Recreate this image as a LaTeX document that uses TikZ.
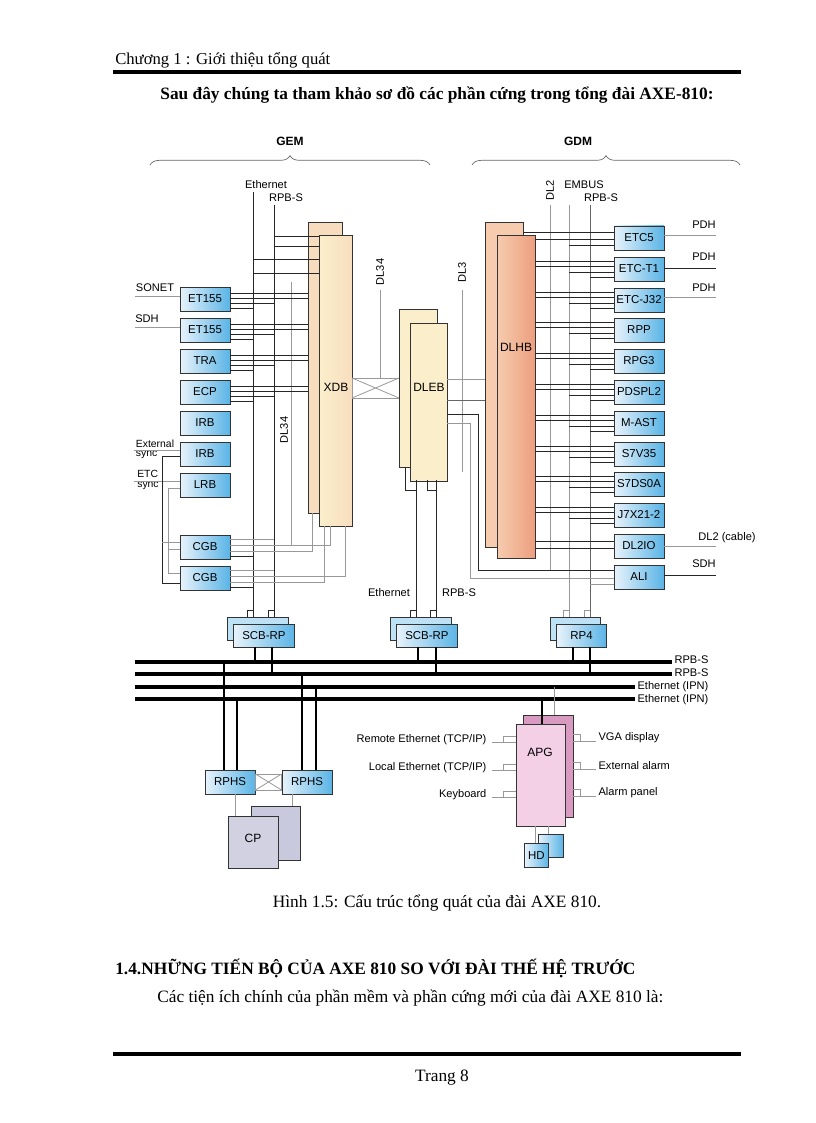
\documentclass[tikz,border=0pt]{standalone}
\usepackage{fontspec}
\setmainfont{Liberation Serif}
\newfontfamily\dsans{Liberation Sans}
\usetikzlibrary{decorations.pathreplacing}
\definecolor{bl}{HTML}{5AB4E6}
\definecolor{bll}{HTML}{E8F3FB}
\definecolor{beige}{HTML}{F7DDBE}
\definecolor{beigel}{HTML}{FBEFCB}
\definecolor{orl}{HTML}{F6CBAE}
\definecolor{ord}{HTML}{EC9E7E}
\definecolor{pk}{HTML}{F3D0E6}
\definecolor{pkd}{HTML}{D99AC2}
\definecolor{lav}{HTML}{C9C9DD}
\begin{document}
\begin{tikzpicture}[x=0.75pt,y=-0.75pt,
  bbox/.style={draw=black!80,line width=0.7pt,left color=bll,right color=bl,minimum width=37.5pt,minimum height=18pt,inner sep=0pt,font=\dsans\fontsize{8.6}{10}\selectfont},
  lbl/.style={font=\dsans\fontsize{8.3}{9}\selectfont,inner sep=1pt},
  ln/.style={line width=0.6pt,black!85},
  gl/.style={line width=0.6pt,black!40},
  bus/.style={line width=2.6pt},
  tall/.style={draw=black!80,line width=0.7pt,inner sep=0pt}]
\useasboundingbox (0,0) rectangle (816,1123);
% page text
\node[anchor=west,font=\fontsize{12.5}{14}\selectfont,inner sep=0] (hdr) at (115,60) {Chương 1 : Giới thiệu tổng quát};
\draw[line width=3pt] (113,72) -- (741,72);
\node[font=\bfseries\fontsize{13}{14}\selectfont] (ttl) at (437,95) {Sau đây chúng ta tham khảo sơ đồ các phần cứng trong tổng đài AXE-810:};
% braces
\draw[decorate,decoration={brace,amplitude=7pt},line width=0.5pt,black!60] (150,165) -- (430,165);
\node[font=\dsans\bfseries\fontsize{9}{10}\selectfont] (gem) at (290,141) {GEM};
\draw[decorate,decoration={brace,amplitude=7pt},line width=0.5pt,black!60] (472,165) -- (740,165);
\node[font=\dsans\bfseries\fontsize{9}{10}\selectfont] (gdm) at (578,141) {GDM};

% GEM vertical lines
\node[lbl] (leth) at (266,185) {Ethernet};
\node[lbl] (lrpb) at (286,198) {RPB-S};
\draw[ln] (253,192) -- (253,622);
\draw[ln] (274,205) -- (274,622);
\draw[gl] (291,282) -- (291,545);
\node[lbl,rotate=90] (dl34a) at (284,430) {DL34};
\draw[gl] (380,290) -- (380,378);
\node[lbl,rotate=90] (dl34b) at (380,272) {DL34};
% XDB
\fill[beige] (308,222) rectangle (342,513); \draw[black!80,line width=0.7pt] (308,222) rectangle (342,513);
\node[tall,left color=beigel,right color=beige,minimum width=24.75pt,minimum height=218pt,anchor=north west] (xdb) at (319,235) {};
\node[font=\dsans\fontsize{9}{10}\selectfont] (xdbl) at (336,387) {XDB};
\foreach \y/\x in {236/274,246/274,259/253,273/253}{\draw[ln] (\x,\y) -- (319,\y);}
% left boxes
\foreach \n/\t/\y in {a/ET155/299,b/ET155/330,c/TRA/361,d/ECP/392,e/IRB/423,f/IRB/454,g/LRB/485,h/CGB/547,i/CGB/578}{
  \node[bbox] (L\n) at (205,\y) {\t};}
\foreach \y in {299,330,361,392}{
  \draw[ln] (230,\y-6) -- (308,\y-6);
  \draw[ln] (230,\y-1) -- (308,\y-1);
  \draw[ln] (230,\y+4) -- (274,\y+4);
  \draw[ln] (230,\y+9) -- (253,\y+9);}
\node[lbl] (sonet) at (155,288) {SONET};
\draw[gl] (135,296) -- (La.west|-0,296);
\node[lbl] (sdh1) at (147,319) {SDH};
\draw[gl] (135,327) -- (Lb.west|-0,327);
\node[lbl,align=left,font=\dsans\fontsize{7.8}{7}\selectfont] (exs) at (155,449) {External\\sync};
\draw[gl] (134,450) -- (Lf.west|-0,450);
\node[lbl,align=left,font=\dsans\fontsize{7.8}{7}\selectfont] (etcs) at (148,480) {ETC\\sync};
\draw[gl] (134,481) -- (Lg.west|-0,481);
\draw[ln] (Lf.west|-0,456) -- (162,456) -- (162,583) -- (Li.west|-0,583);
\draw[gl] (Lg.west|-0,488) -- (168,488) -- (168,573) -- (Li.west|-0,573);
\draw[gl] (162,542) -- (Lh.west|-0,542);
\draw[gl] (168,549) -- (Lh.west|-0,549);
% CGB links
\draw[gl] (230,539) -- (274,539);
\draw[gl] (230,545) -- (330,545) -- (330,526);
\draw[gl] (230,551) -- (312,551) -- (312,513);
\draw[ln] (230,556) -- (253,556);
\draw[gl] (230,570) -- (274,570);
\draw[gl] (230,576) -- (345,576) -- (345,526);
\draw[gl] (230,582) -- (324,582) -- (324,526);
\draw[ln] (230,587) -- (253,587);
% cross
\draw[gl] (352,378) rectangle (399,398);
\draw[gl] (352,378) -- (399,398) (352,398) -- (399,378);
% DLEB
\fill[beigel] (399,309) rectangle (437,467); \draw[black!80,line width=0.7pt] (399,309) rectangle (437,467);
\node[tall,fill=beigel,minimum width=27.75pt,minimum height=118.5pt,anchor=north west] (dleb) at (410,323) {};
\node[font=\dsans\fontsize{9}{10}\selectfont] (dlebl) at (429,387) {DLEB};
\draw[gl] (462,290) -- (462,472);
\node[lbl,rotate=90] (dl3) at (462,272) {DL3};
\draw[gl] (447,379) -- (485,379);
\draw[ln,black!60] (447,400) -- (497,400);
% DLEB bottom
\draw[ln] (416,480) -- (416,622);
\draw[ln] (436,480) -- (436,622);
\draw[ln] (405,467) -- (405,490) -- (416,490);
\draw[ln] (427,480) -- (427,490) -- (436,490);
\node[lbl] (eth2) at (389,593) {Ethernet};
\node[lbl] (rpb2) at (459,593) {RPB-S};
% DLHB
\fill[orl] (485,222) rectangle (523,547); \draw[black!80,line width=0.7pt] (485,222) rectangle (523,547);
\node[tall,left color=orl,right color=ord,minimum width=28.5pt,minimum height=242.25pt,anchor=north west] (dlhb) at (497,235) {};
\node[font=\dsans\fontsize{9}{10}\selectfont] (dlhbl) at (516,347) {DLHB};
% GDM verticals
\node[lbl,rotate=90] (dl2) at (550,190) {DL2};
\node[lbl] (emb) at (584,185) {EMBUS};
\node[lbl] (rpb3) at (601,198) {RPB-S};
\draw[gl] (550,205) -- (550,570);
\draw[gl] (569,205) -- (569,622);
\draw[ln,black!60] (590,205) -- (590,622);
% right boxes
\foreach \n/\t/\y in {a/ETC5/238,b/ETC-T1/269,c/ETC-J32/300,d/RPP/330,e/RPG3/361,f/PDSPL2/392,g/M-AST/423,h/S7V35/454,i/S7DS0A/484,j/J7X21-2/515,k/DL2IO/546,l/ALI/577}{
  \node[bbox] (R\n) at (639,\y) {\t};}
\draw[ln] (523,232) -- (614,232);
\draw[ln] (535,239) -- (614,239);
\draw[ln] (569,245) -- (614,245);
\foreach \y in {269,300,330,361,392,423,454,484,515}{
  \draw[ln] (535,\y-8) -- (614,\y-8);
  \draw[ln] (535,\y-3) -- (614,\y-3);
  \draw[ln] (569,\y+3) -- (614,\y+3);
  \draw[ln] (590,\y+8) -- (614,\y+8);}
\draw[ln] (535,541) -- (614,541);
\draw[ln] (535,548) -- (614,548);
\draw[ln] (447,414) -- (478,414) -- (478,570) -- (614,570);
\draw[gl] (447,423) -- (470,423) -- (470,578) -- (614,578);
\draw[gl] (590,584) -- (614,584);
% external right
\node[lbl] (pdh1) at (704,225) {PDH}; \draw[gl] (664,235) -- (716,235);
\node[lbl] (pdh2) at (704,257) {PDH}; \draw[ln] (664,268) -- (716,268);
\node[lbl] (pdh3) at (704,288) {PDH}; \draw[gl] (664,297) -- (716,297);
\node[lbl] (dl2c) at (727,538) {DL2 (cable)}; \draw[gl] (664,546) -- (716,546);
\node[lbl] (sdh2) at (704,564) {SDH}; \draw[ln] (664,575) -- (716,575);
% SCB-RP & RP4
\foreach \n/\x/\w/\t in {s1/227/61/SCB-RP,s2/390/61/SCB-RP,s3/550/50/RP4}{
  \draw[black!80,line width=0.7pt,fill=bl!40] (\x,617) rectangle (\x+\w,640);
  \node[bbox,minimum width=\w*0.75pt,minimum height=17.25pt,anchor=north west] (\n) at (\x+6,624) {\t};}
\draw[ln] (247,617) -- (247,610) -- (253,610);
\draw[ln] (268,617) -- (268,610) -- (274,610);
\draw[ln] (410,617) -- (410,610) -- (416,610);
\draw[ln] (430,617) -- (430,610) -- (436,610);
\draw[gl] (563,617) -- (563,610) -- (569,610);
\draw[gl] (584,617) -- (584,610) -- (590,610);
% buses
\draw[bus] (135,662) -- (672,662); \node[lbl,anchor=west] (b1) at (673,660) {RPB-S};
\draw[bus] (135,674) -- (672,674); \node[lbl,anchor=west] (b2) at (673,673) {RPB-S};
\draw[bus] (135,687) -- (635,687); \node[lbl,anchor=west] (b3) at (636,687) {Ethernet (IPN)};
\draw[bus] (135,699) -- (635,699); \node[lbl,anchor=west] (b4) at (636,700) {Ethernet (IPN)};
\foreach \x/\y in {255/662,272/674,418/662,436/674,573/662,590/674}{\draw[line width=1.6pt] (\x,647) -- (\x,\y);}
% RPHS
\node[bbox,minimum width=37.5pt] (rp1) at (230,782) {RPHS};
\node[bbox,minimum width=37.5pt] (rp2) at (307,782) {RPHS};
\draw[gl] (rp1.east|-0,774) rectangle (rp2.west|-0,790);
\draw[gl] (rp1.east|-0,774) -- (rp2.west|-0,790) (rp1.east|-0,790) -- (rp2.west|-0,774);
\foreach \x/\y in {224/662,237/699,302/674,316/687}{\draw[line width=1.6pt] (\x,\y) -- (\x,770);}
% CP
\draw[black!80,line width=0.7pt,fill=lav] (251,806) rectangle (300,860);
\node[tall,fill=lav!85,minimum width=37.5pt,minimum height=39pt,anchor=north west] (cp) at (228,816) {};
\node[font=\dsans\fontsize{9}{10}\selectfont] (cpl) at (253,838) {CP};
\draw[gl] (235,794) -- (235,816);
\draw[gl] (292,794) -- (292,806);
% APG
\draw[black!80,line width=0.7pt,fill=pkd] (523,715) rectangle (573,817);
\node[tall,fill=pk,minimum width=36.75pt,minimum height=76.5pt,anchor=north west] (apg) at (516,724) {};
\node[font=\dsans\fontsize{9}{10}\selectfont] (apgl) at (540,752) {APG};
\draw[line width=0.9pt] (542,699) -- (542,724);
\draw[gl] (554,687) -- (554,715);
\foreach \t/\y in {{Remote Ethernet (TCP/IP)}/740,{Local Ethernet (TCP/IP)}/768,{Keyboard}/795}{
  \node[lbl,anchor=east] at (488,\y) {\t};
  \draw[gl] (492,\y+2) -- (516,\y+2);
  \draw[gl] (503,\y+2) -- (503,\y-4) -- (516,\y-4);}
\foreach \t/\y in {{VGA display}/738,{External alarm}/766,{Alarm panel}/793}{
  \node[lbl,anchor=west] at (597,\y) {\t};
  \draw[gl] (573,\y+3) -- (596,\y+3);
  \draw[gl] (573,\y-4) -- (580,\y-4) -- (580,\y+3);}
% HD
\draw[black!80,line width=0.7pt,left color=bll,right color=bl] (538,834) rectangle (563,857);
\node[bbox,minimum width=18pt,minimum height=18pt,anchor=north west] (hd) at (524,843) {HD};
\draw[gl] (535,826) -- (535,843);
\draw[gl] (548,826) -- (548,834);
% caption & text
\node[font=\fontsize{13}{14}\selectfont] (cap) at (437,903) {Hình 1.5: Cấu trúc tổng quát của đài AXE 810.};
\node[anchor=west,inner sep=0,font=\bfseries\fontsize{13}{14}\selectfont] (h14) at (115,968) {1.4.NHỮNG TIẾN BỘ CỦA AXE 810 SO VỚI ĐÀI THẾ HỆ TRƯỚC};
\node[anchor=west,inner sep=0,font=\fontsize{13}{14}\selectfont] (p1) at (157,998) {Các tiện ích chính của phần mềm và phần cứng mới của đài AXE 810 là:};
\draw[line width=3pt] (113,1054) -- (741,1054);
\node[font=\fontsize{13}{14}\selectfont] (pg) at (442,1078) {Trang 8};
\end{tikzpicture}
\end{document}
